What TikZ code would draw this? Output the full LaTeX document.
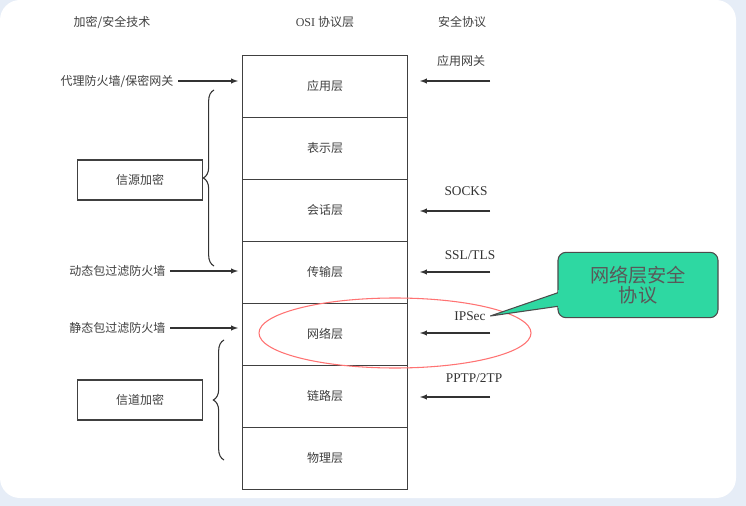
\documentclass[tikz,border=0pt]{standalone}
\usepackage{fontspec}
\setmainfont{Liberation Serif}
\newfontfamily\cjk{Noto Sans CJK SC}
\usetikzlibrary{decorations.pathreplacing}
\definecolor{calloutgreen}{HTML}{2ED8A2}
\definecolor{pagebg}{HTML}{E6EDF7}
\tikzset{
  layer/.style={draw=black!75,semithick,minimum width=124pt,minimum height=46.5pt,inner sep=0pt,font=\cjk\small,text=black!75},
  lbl/.style={font=\cjk\small,text=black!75},
  plbl/.style={font=\normalsize,text=black!80},
  arr/.style={-latex,thick,black!80},
  encbox/.style={draw=black!75,thick,minimum width=94pt,minimum height=30pt,font=\cjk\small,text=black!75},
  brc/.style={decorate,decoration={brace,amplitude=8pt},thick,black!80}
}
\begin{document}
\begin{tikzpicture}[x=0.75pt,y=-0.75pt]
\fill[pagebg] (0,0) rectangle (746,506);
\fill[white,rounded corners=15pt] (0,0) rectangle (736,498);
\useasboundingbox (0,0) rectangle (746,506);
% headers
\node[lbl] (h1) at (112,22) {加密/安全技术};
\node[lbl] (h2) at (325,22) {\rmfamily OSI {\cjk 协议层}};
\node[lbl] (h3) at (462,22) {安全协议};
% OSI stack
\foreach \i/\t/\n in {0/应用层/app,1/表示层/pre,2/会话层/ses,3/传输层/tra,4/网络层/net,5/链路层/lnk,6/物理层/phy}
  \node[layer] (\n) at (325,{86+62*\i}) {\t};
% left side
\node[lbl,anchor=east] (proxy) at (178,81) {代理防火墙/保密网关};
\node[lbl,anchor=east] (dyn) at (170,271) {动态包过滤防火墙};
\node[lbl,anchor=east] (sta) at (170,328) {静态包过滤防火墙};
\draw[arr] (proxy.east) -- (238,81);
\draw[arr] (dyn.east) -- (238,271);
\draw[arr] (sta.east) -- (238,328);
\node[encbox] (src) at (140,180) {信源加密};
\node[encbox] (chn) at (140,400) {信道加密};
\draw[brc] (214,266) -- (214,90);
\draw[brc] (224,460) -- (224,340);
% right side
\foreach \y/\t/\n in {81/应用网关/ag,211/SOCKS/so,272/SSL\slash TLS/ssl,333/IPSec/ips,397/PPTP\slash 2TP/pp}
  \draw[arr] (490,\y) -- (420,\y);
\node[lbl] (ag) at (461,61) {应用网关};
\node[plbl] (so) at (466,191) {SOCKS};
\node[plbl] (ssl) at (470,255) {SSL/TLS};
\node[plbl] (ips) at (470,316) {IPSec};
\node[plbl] (pp) at (474,378) {PPTP/2TP};
\draw[red!55,thick] (395,333) ellipse (136pt*0.75 and 35pt*0.75);
% callout
\node[draw=black!70,thick,fill=calloutgreen,rounded corners=6pt,align=center,
  minimum width=120pt,minimum height=49pt,font=\cjk\Large,text=black!65] (call) at (638,285) {网络层安全\\[-3pt]协议};
\filldraw[draw=black!70,thick,fill=calloutgreen] (ips.east) -- (560,292) -- (560,306) -- cycle;
\fill[calloutgreen] (558,290) rectangle (563,308);
\end{tikzpicture}
\end{document}
